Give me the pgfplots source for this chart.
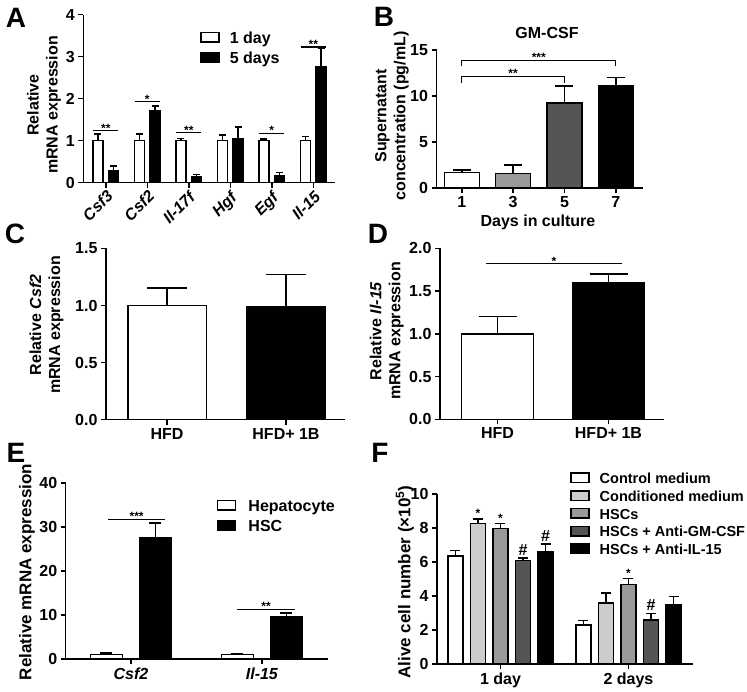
\documentclass[border=0pt]{standalone}
\usepackage{fontspec}
\setmainfont{Liberation Sans}
\usepackage{pgfplots}
\pgfplotsset{compat=1.18}

\newcommand\fs{\fontsize{16}{19}\selectfont\bfseries}
\newcommand\fl{\fontsize{14.5}{17}\selectfont\bfseries}
\newcommand\fss{\fontsize{12}{14}\selectfont\bfseries}
\newcommand\fbig{\fontsize{28}{30}\selectfont\bfseries}

\definecolor{lg}{HTML}{CCCCCC}
\definecolor{mg}{HTML}{999999}
\definecolor{dg}{HTML}{555555}

\tikzset{sig/.style={line width=1.2pt}}
\pgfplotsset{
  panel/.style={
    ybar,
    scale only axis, clip=false,
    axis x line*=bottom, axis y line*=left,
    tick align=outside, major tick length=5pt,
    axis line style={line width=1.5pt, black},
    tick style={line width=1.5pt, black},
    tick label style={font=\fs},
    /pgf/number format/assume math mode=true,
    ymin=0,
  },
  sw/.style={legend image code/.code={\draw[##1, line width=1.5pt] (0pt,-2.5pt) rectangle (18pt,7pt);}},
  eb/.style={error bars/.cd, y dir=plus, y explicit,
    error bar style={line width=1.5pt, black, solid},
    error mark options={line width=1.5pt, black, solid, rotate=90, mark size=#1}},
  bb/.style={draw=black, line width=1.5pt, sw},
  leg/.style={legend style={draw=none, fill=none, inner sep=0pt, font=#1,
    nodes={inner sep=1pt, text height=11pt, text depth=3pt}, legend cell align=left}},
}

\begin{document}
\begin{tikzpicture}
\useasboundingbox (0,0) rectangle (747pt,-692pt);

% ---------- Panel A ----------
\begin{axis}[panel, at={(83.3pt,-182.7pt)}, width=251.7pt, height=168pt,
  xmin=-0.542, xmax=5.523, ymax=4, ytick={0,1,2,3,4}, xtick={0,1,2,3,4,5},
  xticklabels={\textit{Csf3},\textit{Csf2},\textit{Il-17f},\textit{Hgf},\textit{Egf},\textit{Il-15}},
  xticklabel style={rotate=45, anchor=north east, inner sep=1pt},
  leg=\fs, legend style={at={(0.464,0.901)}, anchor=north west, row sep=4pt, column sep=9pt}]
\addplot[bb, bar width=0.24, bar shift=-0.19, fill=white, eb=3.5pt] coordinates {
 (0,1) +- (0,0.16) (1,1) +- (0,0.16) (2,1) +- (0,0.05) (3,1) +- (0,0.14) (4,1) +- (0,0.04) (5,1) +- (0,0.1)};
\addlegendentry{1 day}
\addplot[bb, bar width=0.24, bar shift=0.19, fill=black, eb=3.5pt] coordinates {
 (0,0.28) +- (0,0.12) (1,1.71) +- (0,0.12) (2,0.135) +- (0,0.065) (3,1.04) +- (0,0.29) (4,0.175) +- (0,0.065) (5,2.75) +- (0,0.45)};
\addlegendentry{5 days}
\draw[sig] (axis cs:-0.3,1.24) -- (axis cs:0.3,1.24) node[midway, above, font=\fss, inner sep=0pt, yshift=-2pt] {**};
\draw[sig] (axis cs:0.7,1.93) -- (axis cs:1.3,1.93) node[midway, above, font=\fss, inner sep=0pt, yshift=-2pt] {*};
\draw[sig] (axis cs:1.7,1.19) -- (axis cs:2.3,1.19) node[midway, above, font=\fss, inner sep=0pt, yshift=-2pt] {**};
\draw[sig] (axis cs:3.7,1.17) -- (axis cs:4.3,1.17) node[midway, above, font=\fss, inner sep=0pt, yshift=-2pt] {*};
\draw[sig] (axis cs:4.7,3.23) -- (axis cs:5.3,3.23) node[midway, above, font=\fss, inner sep=0pt, yshift=-2pt] {**};
\end{axis}

% ---------- Panel B ----------
\begin{axis}[panel, at={(436.5pt,-188pt)}, width=206.5pt, height=138pt,
  xmin=-0.493, xmax=3.53, ymax=15, ytick={0,5,10,15}, xtick={0,1,2,3},
  xticklabels={1,3,5,7}]
\addplot[bb, bar width=0.68, bar shift=0, fill=white, eb=9pt] coordinates {(0,1.7) +- (0,0.25)};
\addplot[bb, bar width=0.68, bar shift=0, fill=mg, eb=9pt] coordinates {(1,1.55) +- (0,0.95)};
\addplot[bb, bar width=0.68, bar shift=0, fill=dg, eb=9pt] coordinates {(2,9.25) +- (0,1.85)};
\addplot[bb, bar width=0.68, bar shift=0, fill=black, eb=9pt] coordinates {(3,11.1) +- (0,0.9)};
\draw[sig] (axis cs:0,11.4) -- (axis cs:0,12.1) -- (axis cs:2,12.1) -- (axis cs:2,11.4);
\node[font=\fss, inner sep=0pt, anchor=south, yshift=-1pt] at (axis cs:1,12.1) {**};
\draw[sig] (axis cs:0,13.26) -- (axis cs:0,13.83) -- (axis cs:3,13.83) -- (axis cs:3,13.26);
\node[font=\fss, inner sep=0pt, anchor=south, yshift=-1pt] at (axis cs:1.5,13.83) {***};
\end{axis}

% ---------- Panel C ----------
\begin{axis}[panel, at={(106pt,-419.5pt)}, width=239pt, height=171pt,
  xmin=-0.513, xmax=1.496, ymax=1.5, ytick={0,0.5,1,1.5}, yticklabels={0.0,0.5,1.0,1.5},
  xtick={0,1}, xticklabels={HFD,HFD+ 1B}]
\addplot[bb, bar width=0.66, bar shift=0, fill=white, eb=20pt] coordinates {(0,1.0) +- (0,0.155)};
\addplot[bb, bar width=0.66, bar shift=0, fill=black, eb=20pt] coordinates {(1,0.99) +- (0,0.28)};
\end{axis}

% ---------- Panel D ----------
\begin{axis}[panel, at={(440pt,-419.3pt)}, width=224pt, height=171pt,
  xmin=-0.518, xmax=1.5, ymax=2, ytick={0,0.5,1,1.5,2}, yticklabels={0.0,0.5,1.0,1.5,2.0},
  xtick={0,1}, xticklabels={HFD,HFD+ 1B}]
\addplot[bb, bar width=0.65, bar shift=0, fill=white, eb=19pt] coordinates {(0,1.0) +- (0,0.2)};
\addplot[bb, bar width=0.65, bar shift=0, fill=black, eb=19pt] coordinates {(1,1.6) +- (0,0.1)};
\draw[sig] (axis cs:-0.104,1.82) -- (axis cs:1.12,1.82) node[midway, above, font=\fss, inner sep=0pt, yshift=-2pt] {*};
\end{axis}

% ---------- Panel E ----------
\begin{axis}[panel, at={(65.7pt,-659pt)}, width=262.3pt, height=176pt,
  xmin=-0.498, xmax=1.504, ymax=40, ytick={0,10,20,30,40},
  xtick={0,1}, xticklabels={\textit{Csf2},\textit{Il-15}},
  leg=\fs, legend style={at={(0.576,0.906)}, anchor=north west, row sep=4pt, column sep=11pt}]
\addplot[bb, bar width=0.245, bar shift=-0.187, fill=white, eb=6pt] coordinates {(0,1.0) +- (0,0.35) (1,1.0) +- (0,0.15)};
\addlegendentry{Hepatocyte}
\addplot[bb, bar width=0.245, bar shift=0.187, fill=black, eb=6pt] coordinates {(0,27.6) +- (0,3.3) (1,9.6) +- (0,0.9)};
\addlegendentry{HSC}
\draw[sig] (axis cs:-0.173,31.7) -- (axis cs:0.26,31.7) node[midway, above, font=\fss, inner sep=0pt, yshift=-2pt] {***};
\draw[sig] (axis cs:0.811,11.26) -- (axis cs:1.252,11.26) node[midway, above, font=\fss, inner sep=0pt, yshift=-2pt] {**};
\end{axis}

% ---------- Panel F ----------
\begin{axis}[panel, at={(437pt,-664pt)}, width=256pt, height=170pt,
  xmin=-0.496, xmax=1.504, ymax=10, ytick={0,2,4,6,8,10},
  xtick={0,1}, xticklabels={1 day,2 days},
  leg=\fl, legend style={at={(0.5195,1.129)}, anchor=north west, row sep=2.5pt, column sep=9pt,
    nodes={inner sep=1pt, text height=10pt, text depth=3pt}}]
\addplot[bb, bar width=0.117, bar shift=-0.352, fill=white, eb=5pt] coordinates {(0,6.35) +- (0,0.33) (1,2.3) +- (0,0.25)};
\addlegendentry{Control medium}
\addplot[bb, bar width=0.117, bar shift=-0.176, fill=lg, eb=5pt] coordinates {(0,8.27) +- (0,0.27) (1,3.6) +- (0,0.58)};
\addlegendentry{Conditioned medium}
\addplot[bb, bar width=0.117, bar shift=0, fill=mg, eb=5pt] coordinates {(0,7.98) +- (0,0.28) (1,4.67) +- (0,0.35)};
\addlegendentry{HSCs}
\addplot[bb, bar width=0.117, bar shift=0.176, fill=dg, eb=5pt] coordinates {(0,6.1) +- (0,0.15) (1,2.6) +- (0,0.38)};
\addlegendentry{HSCs + Anti-GM-CSF}
\addplot[bb, bar width=0.117, bar shift=0.352, fill=black, eb=5pt] coordinates {(0,6.6) +- (0,0.47) (1,3.5) +- (0,0.46)};
\addlegendentry{HSCs + Anti-IL-15}
\node[font=\fss, inner sep=0pt, anchor=south] at (axis cs:-0.176,8.62) {*};
\node[font=\fss, inner sep=0pt, anchor=south] at (axis cs:0,8.33) {*};
\node[font=\fs, inner sep=0pt, anchor=south] at (axis cs:0.176,6.4) {\#};
\node[font=\fs, inner sep=0pt, anchor=south] at (axis cs:0.352,7.22) {\#};
\node[font=\fss, inner sep=0pt, anchor=south] at (axis cs:1,5.09) {*};
\node[font=\fs, inner sep=0pt, anchor=south] at (axis cs:1.176,3.13) {\#};
\end{axis}

% ---------- labels ----------
\node[rotate=90, align=center, font=\fs] at (44pt,-105pt) {Relative\\mRNA expression};
\node[rotate=90, align=center, font=\fs] at (392pt,-116pt) {Supernatant\\concentration (pg/mL)};
\node[rotate=90, align=center, font=\fs] at (46.5pt,-325pt) {Relative \textit{Csf2}\\mRNA expression};
\node[rotate=90, align=center, font=\fs] at (386.7pt,-331pt) {Relative \textit{Il-15}\\mRNA expression};
\node[rotate=90, font=\fontsize{17}{20}\selectfont\bfseries] at (27pt,-572pt) {Relative mRNA expression};
\node[rotate=90, font=\fontsize{17}{20}\selectfont\bfseries] at (405pt,-582pt) {Alive cell number (×10\textsuperscript{5})};
\node[font=\fs] at (547pt,-33pt) {GM-CSF};
\node[font=\fs] at (538pt,-222pt) {Days in culture};

\node[font=\fbig] at (16pt,-18pt) {A};
\node[font=\fbig] at (384pt,-17pt) {B};
\node[font=\fbig] at (15pt,-234pt) {C};
\node[font=\fbig] at (378pt,-234pt) {D};
\node[font=\fbig] at (16pt,-453pt) {E};
\node[font=\fbig] at (380pt,-453pt) {F};
\end{tikzpicture}
\end{document}
